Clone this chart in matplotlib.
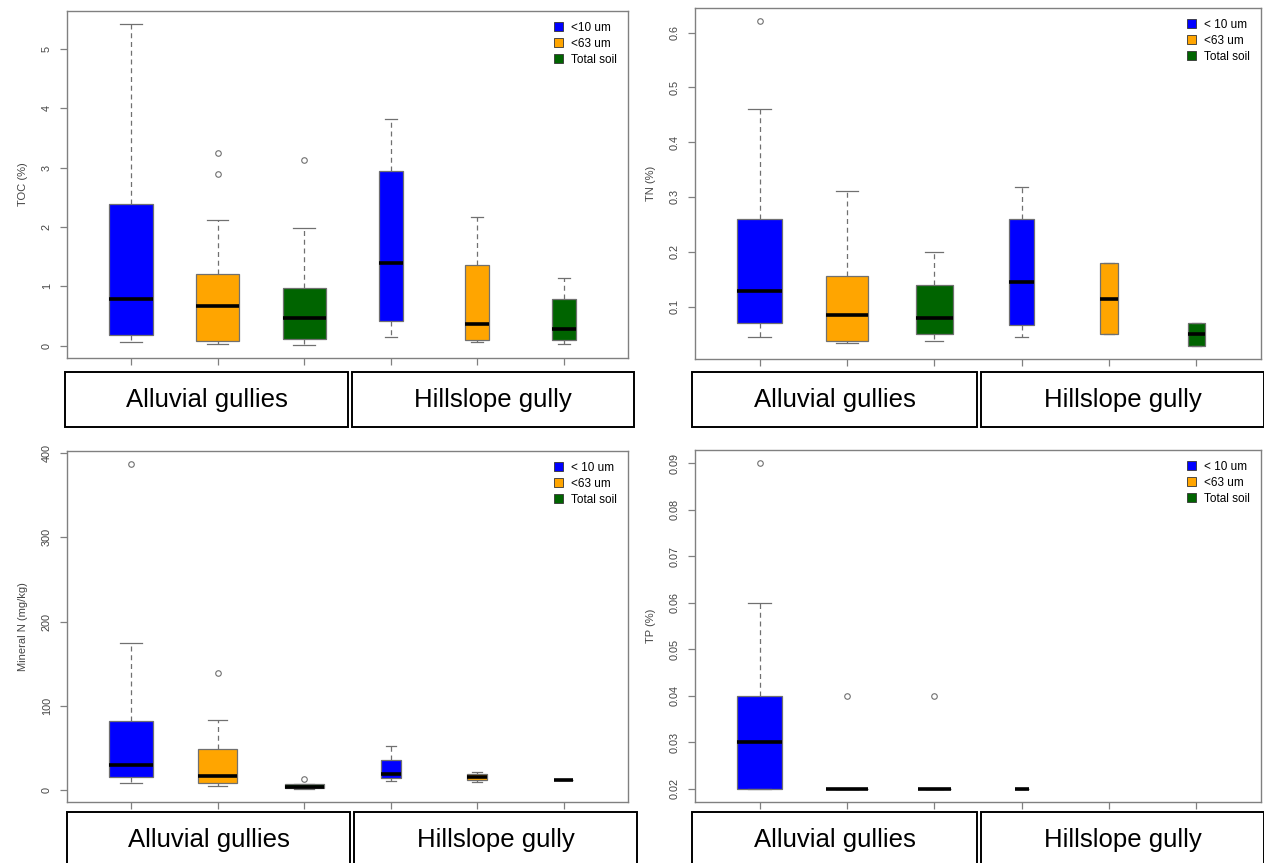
import matplotlib
matplotlib.use("Agg")
from matplotlib import pyplot as plt
from matplotlib.patches import Patch, Rectangle

plt.rcParams['font.family'] = ['Liberation Sans', 'DejaVu Sans']

# five-number summaries (low whisker, q1, median, q3, high whisker) per group
groups = ["Alluvial gullies", "Hillslope gully"]
fractions = ["<10 um", "<63 um", "Total soil"]
colors = ["#0000ff", "#ffa500", "#006400"]

toc_stats = [(0.06, 0.18, 0.78, 2.39, 5.42), (0.03, 0.08, 0.67, 1.21, 2.12),
             (0.01, 0.11, 0.47, 0.97, 1.99), (0.14, 0.42, 1.39, 2.94, 3.81),
             (0.06, 0.10, 0.36, 1.36, 2.16), (0.03, 0.10, 0.29, 0.78, 1.14)]
toc_out = [[], [2.89, 3.24], [3.12], [], [], []]

tn_stats = [(0.044, 0.070, 0.129, 0.259, 0.46), (0.034, 0.038, 0.085, 0.155, 0.31),
            (0.038, 0.049, 0.079, 0.139, 0.20), (0.044, 0.066, 0.145, 0.259, 0.319),
            (0.049, 0.049, 0.114, 0.18, 0.18), (0.028, 0.028, 0.05, 0.07, 0.07)]
tn_out = [[0.621], [], [], [], [], []]

minn_stats = [(8.7, 15.8, 29.6, 82.6, 175), (4.7, 8.7, 16.6, 49, 83.8),
              (1.6, 2.4, 4.3, 7.1, 7.9), (11, 14.2, 19.8, 36.4, 53),
              (10.3, 12.6, 15.8, 19.8, 21.7), (12.3, 12.3, 12.3, 12.3, 12.3)]
minn_out = [[387], [139], [13.4], [], [], []]

tp_stats = [(0.02, 0.02, 0.03, 0.04, 0.06), (0.02, 0.02, 0.02, 0.02, 0.02),
            (0.02, 0.02, 0.02, 0.02, 0.02), (0.02, 0.02, 0.02, 0.02, 0.02),
            None, None]
tp_out = [[0.09], [0.04], [0.04], [], [], []]

# relative box widths (boxes are narrower for the smaller groups)
toc_w = [0.51, 0.50, 0.50, 0.28, 0.28, 0.27]
tn_w = [0.51, 0.49, 0.42, 0.29, 0.21, 0.20]
minn_w = [0.51, 0.45, 0.45, 0.23, 0.23, 0.22]
tp_w = [0.51, 0.49, 0.38, 0.16, 0.16, 0.16]

W, H = 1264, 863
fig = plt.figure(figsize=(W / 100, H / 100), dpi=100)

frame_col = "#808080"
tick_col = "#444444"


def px_axes(x0, y0, x1, y1):
    return fig.add_axes([x0 / W, (H - y1) / H, (x1 - x0) / W, (y1 - y0) / H])


def panel(ax, stats, outs, widths, ylabel, yticks, ylabfmt, first_label):
    pos, st, wd, cl = [], [], [], []
    for i, s in enumerate(stats):
        if s is None:
            continue
        lo, q1, med, q3, hi = s
        st.append(dict(whislo=lo, q1=q1, med=med, q3=q3, whishi=hi, fliers=outs[i]))
        pos.append(i + 1)
        wd.append(widths[i])
        cl.append(colors[i % 3])
    b = ax.bxp(st, positions=pos, widths=wd, capwidths=[w * 0.5 for w in wd],
               patch_artist=True, showfliers=True,
               boxprops=dict(edgecolor="#707070", linewidth=0.9),
               medianprops=dict(color="black", linewidth=2.6, solid_capstyle="butt"),
               whiskerprops=dict(color="#707070", linewidth=0.9, linestyle=(0, (4, 3))),
               capprops=dict(color="#707070", linewidth=0.9),
               flierprops=dict(marker="o", markersize=4, markerfacecolor="none",
                               markeredgecolor="#707070", markeredgewidth=0.8))
    for patch, c in zip(b["boxes"], cl):
        patch.set_facecolor(c)

    vals = [v for s in stats if s is not None for v in s] + [v for o in outs for v in o]
    lo, hi = min(vals), max(vals)
    pad = (hi - lo) * 0.04
    ax.set_ylim(lo - pad, hi + pad)
    ax.set_xlim(0.26, 6.74)
    ax.set_xticks(range(1, 7))
    ax.set_xticklabels([])
    ax.set_yticks(yticks)
    ax.set_yticklabels([ylabfmt % t for t in yticks], rotation=90, va="center",
                       fontsize=7.8, color=tick_col)
    ax.tick_params(axis="both", color=frame_col, length=5, width=0.9, pad=4)
    ax.tick_params(axis="y", pad=6)
    for sp in ax.spines.values():
        sp.set_color(frame_col)
        sp.set_linewidth(1.0)
    ax.set_ylabel(ylabel, fontsize=8, color=tick_col, labelpad=10)

    labels = [first_label] + fractions[1:]
    handles = [Patch(facecolor=c, edgecolor="#333333", linewidth=0.6) for c in colors]
    ax.legend(handles, labels, loc="upper right", frameon=False, fontsize=8.5,
              handlelength=0.8, handleheight=0.8, handletextpad=0.7,
              labelspacing=0.35, borderaxespad=0.5, borderpad=0.4)


def group_boxes(x0, x_mid, x1, y0, y1):
    for (a, b), name in zip([(x0, x_mid - 2), (x_mid + 2, x1)], groups):
        fig.patches.append(Rectangle((a / W, (H - y1) / H), (b - a) / W, (y1 - y0) / H,
                                     transform=fig.transFigure, facecolor="white",
                                     edgecolor="black", linewidth=1.4))
        fig.text((a + b) / 2 / W, (H - (y0 + 28)) / H, name, ha="center",
                 va="center", fontsize=18.5)


ax1 = px_axes(67, 11, 628, 358)
panel(ax1, toc_stats, toc_out, toc_w, "TOC (%)", [0, 1, 2, 3, 4, 5], "%g", "<10 um")
group_boxes(65, 350, 634, 372, 427)

ax2 = px_axes(695, 8, 1261, 359)
panel(ax2, tn_stats, tn_out, tn_w, "TN (%)", [0.1, 0.2, 0.3, 0.4, 0.5, 0.6], "%.1f", "< 10 um")
group_boxes(692, 979, 1264, 372, 427)

ax3 = px_axes(67, 451, 628, 802)
panel(ax3, minn_stats, minn_out, minn_w, "Mineral N (mg/kg)", [0, 100, 200, 300, 400], "%d", "< 10 um")
group_boxes(67, 352, 637, 812, 867)

ax4 = px_axes(695, 450, 1261, 802)
panel(ax4, tp_stats, tp_out, tp_w, "TP (%)",
      [0.02, 0.03, 0.04, 0.05, 0.06, 0.07, 0.08, 0.09], "%.2f", "< 10 um")
group_boxes(692, 979, 1264, 812, 867)

fig.savefig("out.png", dpi=100)
